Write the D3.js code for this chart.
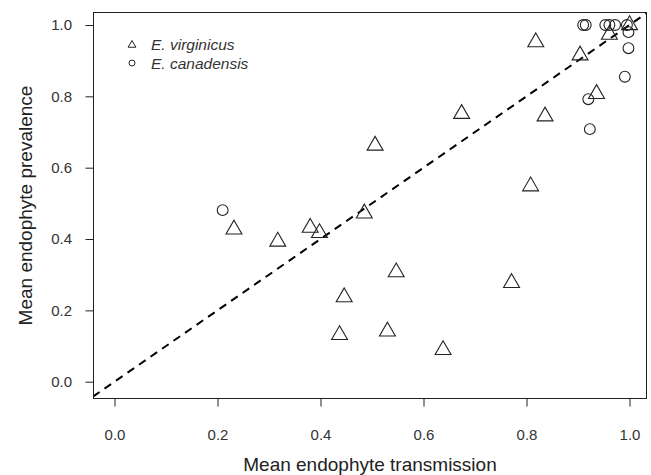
<!DOCTYPE html>
<html><head><meta charset="utf-8">
<script src="https://cdn.jsdelivr.net/npm/d3@7"></script>
<style>html,body{margin:0;padding:0;background:#fff;}</style>
</head><body>
<script>
// E. virginicus (triangles)
const virgX = [0.232,0.317,0.380,0.398,0.485,0.506,0.674,0.437,0.446,0.530,0.547,0.638,0.771,0.808,0.818,0.836,0.904,0.936,0.961,1.000];
const virgY = [0.427,0.393,0.432,0.417,0.472,0.662,0.751,0.131,0.237,0.141,0.307,0.089,0.277,0.548,0.952,0.744,0.915,0.807,0.973,1.000];
// E. canadensis (circles)
const canX = [0.210,0.910,0.915,0.953,0.961,0.972,0.995,0.998,0.998,0.991,0.920,0.923];
const canY = [0.481,1.000,1.000,1.000,1.000,1.000,1.000,0.980,0.935,0.855,0.792,0.708];
const xTicks = [0.0,0.2,0.4,0.6,0.8,1.0];
const yTicks = [0.0,0.2,0.4,0.6,0.8,1.0];
const legendLabels = ["E. virginicus","E. canadensis"];

const W=651,H=475;
const box={l:93,r:647,t:12,b:399};
const x=d3.scaleLinear().domain([0,1]).range([114.5,629.5]);
const y=d3.scaleLinear().domain([0,1]).range([381.7,25]);
const FONT="'Liberation Sans',Arial,sans-serif";
const svg=d3.select("body").append("svg").attr("width",W).attr("height",H)
  .style("font-family",FONT);

svg.append("defs").append("clipPath").attr("id","clip").append("rect")
  .attr("x",box.l).attr("y",box.t).attr("width",box.r-box.l).attr("height",box.b-box.t);

// 1:1 dashed line
const x0=x.invert(box.l), x1=x.invert(box.r);
svg.append("line").attr("clip-path","url(#clip)")
  .attr("x1",x(x0)).attr("y1",y(x0)).attr("x2",x(x1)).attr("y2",y(x1))
  .attr("stroke","#000").attr("stroke-width",2).attr("stroke-dasharray","8,6");

// points
const tri=d3.symbol().type(d3.symbolTriangle).size(110);
const g=svg.append("g");
g.selectAll("path.v").data(virgX.map((d,i)=>[d,virgY[i]])).enter().append("path")
  .attr("class","v").attr("d",tri).attr("transform",d=>`translate(${x(d[0])},${y(d[1])})`)
  .attr("fill","none").attr("stroke","#222").attr("stroke-width",1.1);
g.selectAll("circle.c").data(canX.map((d,i)=>[d,canY[i]])).enter().append("circle")
  .attr("class","c").attr("cx",d=>x(d[0])).attr("cy",d=>y(d[1])).attr("r",5.4)
  .attr("fill","none").attr("stroke","#222").attr("stroke-width",1.1);

// box
svg.append("rect").attr("x",box.l+0.5).attr("y",box.t+0.5).attr("width",box.r-box.l-1).attr("height",box.b-box.t-1)
  .attr("fill","none").attr("stroke","#222").attr("stroke-width",1);

// axes
const xa=d3.axisBottom(x).tickValues(xTicks).tickFormat(d3.format(".1f")).tickSize(8).tickPadding(23);
const gx=svg.append("g").attr("transform",`translate(0,${box.b-0.5})`).call(xa);
gx.select(".domain").remove();
const ya=d3.axisLeft(y).tickValues(yTicks).tickFormat(d3.format(".1f")).tickSize(8).tickPadding(13.5);
const gy=svg.append("g").attr("transform",`translate(${box.l+0.5},0)`).call(ya);
gy.select(".domain").remove();
[gx,gy].forEach(a=>{
  a.selectAll("line").attr("stroke","#222");
  a.selectAll("text").attr("fill","#333").style("font-size","15px").style("font-family",FONT);
});

// titles
svg.append("text").attr("x",(box.l+box.r)/2).attr("y",471).attr("text-anchor","middle")
  .attr("fill","#222").style("font-size","19px").text("Mean endophyte transmission");
svg.append("text").attr("transform",`translate(31.5,${(box.t+box.b)/2}) rotate(-90)`).attr("text-anchor","middle")
  .attr("fill","#222").style("font-size","19px").text("Mean endophyte prevalence");

// legend
const lg=svg.append("g");
lg.append("path").attr("d",d3.symbol().type(d3.symbolTriangle).size(26)).attr("transform","translate(132,45)")
  .attr("fill","none").attr("stroke","#222").attr("stroke-width",1);
lg.append("circle").attr("cx",132).attr("cy",63).attr("r",3).attr("fill","none").attr("stroke","#222").attr("stroke-width",1);
legendLabels.forEach((t,i)=>{
  lg.append("text").attr("x",151).attr("y",49.5+i*19.5).attr("fill","#333")
    .style("font-size","15.5px").style("font-style","italic").text(t);
});
</script>
</body></html>
